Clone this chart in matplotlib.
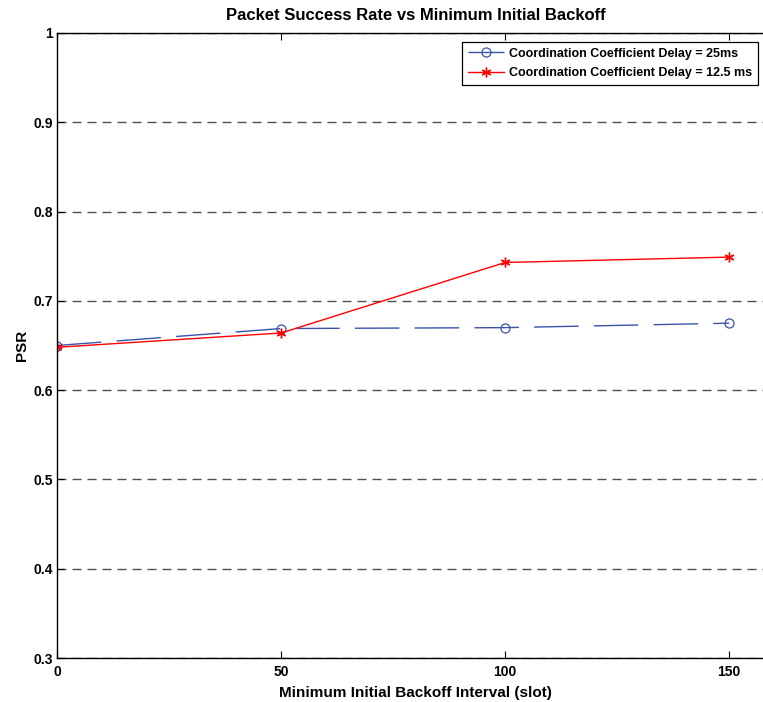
import matplotlib
matplotlib.use("Agg")
import matplotlib.pyplot as plt

plt.rcParams['font.family'] = ['Liberation Sans Narrow', 'Liberation Sans', 'DejaVu Sans']
plt.rcParams['font.weight'] = 'bold'

# data
backoff = [0, 50, 100, 150]
psr_25ms = [0.650, 0.669, 0.670, 0.675]
psr_12_5ms = [0.648, 0.664, 0.743, 0.749]
x_ticks = [0, 50, 100, 150]
y_ticks = [0.3, 0.4, 0.5, 0.6, 0.7, 0.8, 0.9, 1]
y_ticklabels = ['0.3', '0.4', '0.5', '0.6', '0.7', '0.8', '0.9', '1']


def main():
    fig = plt.figure(figsize=(7.63, 7.02), dpi=100)
    # axes run past the right edge like the cropped original
    ax = fig.add_axes([57 / 763, 1 - 658 / 702, 717 / 763, 625 / 702])

    ax.plot(backoff, psr_25ms, color='#3a52aa', linestyle=(0, (32, 11)), linewidth=1.0,
            marker='o', markersize=6.5, markerfacecolor='none', markeredgecolor='#3a52aa',
            markeredgewidth=0.9, label='Coordination Coefficient Delay = 25ms')
    ax.plot(backoff, psr_12_5ms, color='red', linewidth=1.0,
            marker=(6, 2, 0), markersize=7, markerfacecolor='none', markeredgecolor='red',
            markeredgewidth=1.0, label='Coordination Coefficient Delay = 12.5 ms')

    ax.set_xlim(0, 160)
    ax.set_ylim(0.3, 1)
    ax.set_xticks(x_ticks)
    ax.set_yticks(y_ticks)
    ax.set_yticklabels(y_ticklabels)
    ax.tick_params(direction='in', length=5, width=0.8, labelsize=10, top=True)
    ax.tick_params(axis='x', pad=5)
    ax.tick_params(axis='y', pad=3)
    for lbl in ax.get_xticklabels() + ax.get_yticklabels():
        lbl.set_fontweight('bold')

    ax.yaxis.grid(True, linestyle=(0, (6.5, 4.3)), color='#505050', linewidth=1.0)
    ax.xaxis.grid(False)
    for sp in ax.spines.values():
        sp.set_linewidth(1.0)

    ax.set_title('Packet Success Rate vs Minimum Initial Backoff', fontsize=12, fontweight='bold', pad=9)
    ax.set_xlabel('Minimum Initial Backoff Interval (slot)', fontsize=11, fontweight='bold', labelpad=5)
    ax.set_ylabel('PSR', fontsize=11, fontweight='bold', labelpad=3)

    leg = ax.legend(loc='upper right', bbox_to_anchor=(758 / 763, 1 - 42 / 702),
                    bbox_transform=fig.transFigure, borderaxespad=0, fontsize=9,
                    fancybox=False, framealpha=1, edgecolor='black', borderpad=0.45,
                    handlelength=2.9, handletextpad=0.4, labelspacing=0.6)
    leg.get_frame().set_linewidth(0.9)
    for t in leg.get_texts():
        t.set_fontweight('bold')

    fig.savefig('out.png', dpi=100)


if __name__ == '__main__':
    main()
